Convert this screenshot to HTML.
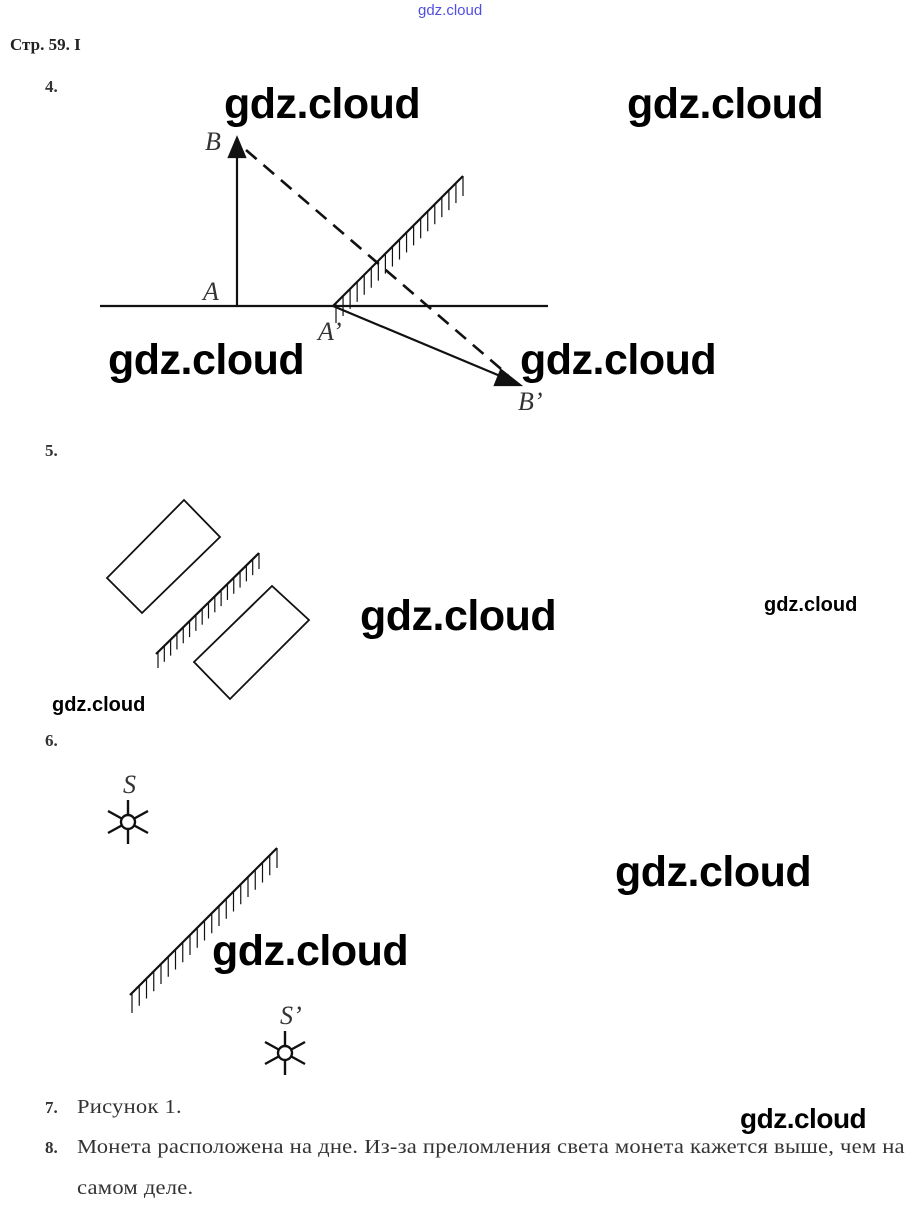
<!DOCTYPE html>
<html><head><meta charset="utf-8"><style>
body{margin:0;background:#fff;width:912px;height:1213px;overflow:hidden;position:relative;font-family:"Liberation Serif",serif}
.t{position:absolute;white-space:nowrap}
.wm{position:absolute;font-family:"Liberation Sans",sans-serif;font-weight:bold;color:#000;white-space:nowrap;letter-spacing:-0.5px}
.n{font-weight:bold;font-size:17px;color:#333}
.p{font-size:20px;color:#333;letter-spacing:0.2px;transform:scaleX(1.13);transform-origin:0 0}
</style></head><body>
<div class="t" style="left:418px;top:2px;font-family:'Liberation Sans',sans-serif;font-size:15px;color:#5050e0">gdz.cloud</div>
<div class="t" style="left:10px;top:35px;font-weight:bold;font-size:17px;color:#222">Стр. 59. I</div>
<div class="t n" style="left:45px;top:77px">4.</div>
<div class="t n" style="left:45px;top:441px">5.</div>
<div class="t n" style="left:45px;top:731px">6.</div>
<svg width="912" height="1213" style="position:absolute;left:0;top:0" id="s">
<g stroke="#111" fill="none" stroke-width="2.2">
<line x1="100" y1="306" x2="548" y2="306"/>
<line x1="237" y1="306" x2="237" y2="155"/>
<polygon points="237,138 229,157 245,157" fill="#111"/>
<line x1="333" y1="306" x2="463" y2="176"/>
<line x1="246" y1="150" x2="508" y2="375" stroke-dasharray="14,9" stroke-width="2.6"/>
<line x1="333" y1="306" x2="505" y2="378"/>
<polygon points="520,385 501,370 495,385" fill="#111"/>
<polygon points="107,578 184,500 220,537 142,613" stroke-width="1.8"/>
<polygon points="194,662 272,586 309,620 230,699" stroke-width="1.8"/>
<line x1="156" y1="654" x2="259" y2="553"/>
<line x1="130" y1="995" x2="277" y2="848"/>
</g>
<g id="h" stroke="#111" stroke-width="1.2"></g>
<g stroke="#111" stroke-width="2.4" fill="#fff">
<g transform="translate(128,822)"><line x1="0" y1="-22" x2="0" y2="22"/><line x1="-20" y1="-11" x2="20" y2="11"/><line x1="-20" y1="11" x2="20" y2="-11"/><circle r="7"/></g>
<g transform="translate(285,1053)"><line x1="0" y1="-22" x2="0" y2="22"/><line x1="-20" y1="-11" x2="20" y2="11"/><line x1="-20" y1="11" x2="20" y2="-11"/><circle r="7"/></g>
</g>
<g font-family="Liberation Serif" font-style="italic" font-size="26" fill="#333">
<text x="205" y="150">B</text><text x="203" y="300">A</text><text x="318" y="340">A’</text><text x="518" y="410">B’</text>
<text x="123" y="793">S</text><text x="280" y="1024">S’</text>
</g>
</svg>
<script>
var g=document.getElementById('h'),s='';
function hat(x1,y1,x2,y2,n,len){for(var i=0;i<=n;i++){var x=x1+(x2-x1)*i/n,y=y1+(y2-y1)*i/n;s+='<line x1="'+x+'" y1="'+y+'" x2="'+x+'" y2="'+(y+len)+'"/>';}}
hat(336,303,463,176,18,20);
hat(158,652,259,553,16,16);
hat(132,993,277,848,20,20);
g.innerHTML=s;
</script>
<div class="wm" style="left:224px;top:80px;font-size:43px">gdz.cloud</div>
<div class="wm" style="left:627px;top:80px;font-size:43px">gdz.cloud</div>
<div class="wm" style="left:108px;top:336px;font-size:43px">gdz.cloud</div>
<div class="wm" style="left:520px;top:336px;font-size:43px">gdz.cloud</div>
<div class="wm" style="left:360px;top:592px;font-size:43px">gdz.cloud</div>
<div class="wm" style="left:764px;top:594px;font-size:20px;letter-spacing:0">gdz.cloud</div>
<div class="wm" style="left:52px;top:694px;font-size:20px;letter-spacing:0">gdz.cloud</div>
<div class="wm" style="left:615px;top:848px;font-size:43px">gdz.cloud</div>
<div class="wm" style="left:212px;top:927px;font-size:43px">gdz.cloud</div>
<div class="wm" style="left:740px;top:1103px;font-size:28px">gdz.cloud</div>
<div class="t n" style="left:45px;top:1098px">7.</div>
<div class="t p" style="left:77px;top:1096px">Рисунок 1.</div>
<div class="t n" style="left:45px;top:1138px">8.</div>
<div class="t p" style="left:77px;top:1136px">Монета расположена на дне. Из-за преломления света монета кажется выше, чем на</div>
<div class="t p" style="left:77px;top:1177px">самом деле.</div>
</body></html>
